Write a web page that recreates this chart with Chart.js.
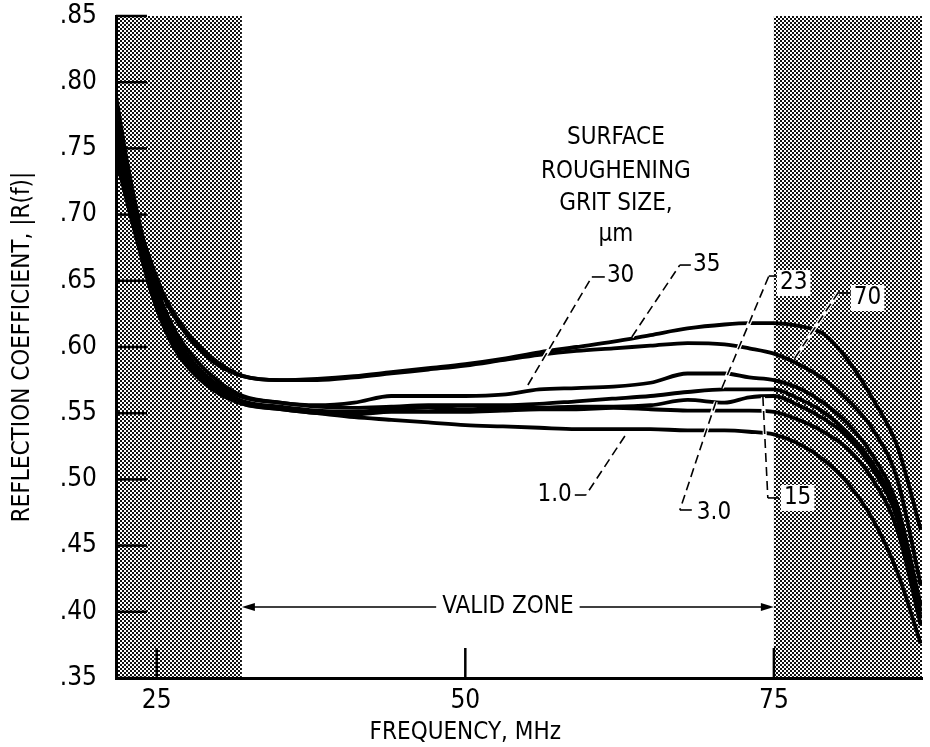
<!DOCTYPE html>
<html>
<head>
<meta charset="utf-8">
<script src="https://cdn.jsdelivr.net/npm/chart.js@4.4.0/dist/chart.umd.min.js"></script>
<style>
  html, body { margin: 0; padding: 0; background: #fff; }
</style>
</head>
<body>
<canvas id="grafico" width="930" height="747"></canvas>
<script>
const FONTE = '"DejaVu Sans Condensed", "Liberation Sans Narrow", "Roboto Condensed", "Liberation Sans", sans-serif';

// eixos
const limitesX = [21.7, 87.0];
const limitesY = [0.35, 0.85];
const ticksX = [25, 50, 75];
const ticksY = [0.35, 0.40, 0.45, 0.50, 0.55, 0.60, 0.65, 0.70, 0.75, 0.80, 0.85];
const zonaValida = [31.9, 75];

// curvas, frequencia em MHz
const frequencias = [21.7, 22.5, 23.5, 24.5, 25.5, 26.5, 28, 30, 32, 35, 38, 41, 44, 47, 50, 53, 56, 59, 62, 65, 68, 71, 73, 75, 77, 79, 81, 83, 85, 86.9];
const grit35 = [0.750, 0.725, 0.693, 0.665, 0.641, 0.624, 0.605, 0.588, 0.578, 0.575, 0.576, 0.578, 0.581, 0.584, 0.587, 0.591, 0.596, 0.600, 0.604, 0.609, 0.614, 0.617, 0.618, 0.618, 0.616, 0.610, 0.590, 0.561, 0.525, 0.462];
const grit70 = [0.740, 0.716, 0.688, 0.662, 0.639, 0.622, 0.603, 0.586, 0.578, 0.575, 0.575, 0.577, 0.580, 0.583, 0.586, 0.590, 0.594, 0.597, 0.599, 0.601, 0.603, 0.602, 0.599, 0.595, 0.587, 0.576, 0.560, 0.538, 0.500, 0.420];
const grit30 = [0.790, 0.745, 0.698, 0.660, 0.632, 0.612, 0.592, 0.574, 0.563, 0.558, 0.556, 0.558, 0.563, 0.563, 0.563, 0.564, 0.568, 0.569, 0.570, 0.573, 0.580, 0.580, 0.577, 0.575, 0.569, 0.558, 0.542, 0.518, 0.480, 0.405];
const grit23 = [0.775, 0.735, 0.692, 0.655, 0.628, 0.608, 0.588, 0.571, 0.562, 0.558, 0.555, 0.554, 0.555, 0.556, 0.556, 0.556, 0.557, 0.559, 0.561, 0.563, 0.566, 0.568, 0.568, 0.568, 0.561, 0.551, 0.535, 0.512, 0.475, 0.400];
const grit15 = [0.765, 0.727, 0.687, 0.651, 0.625, 0.605, 0.585, 0.569, 0.559, 0.555, 0.552, 0.551, 0.553, 0.554, 0.553, 0.554, 0.554, 0.555, 0.555, 0.556, 0.560, 0.558, 0.562, 0.563, 0.556, 0.546, 0.532, 0.508, 0.470, 0.395];
const grit3 = [0.755, 0.720, 0.682, 0.647, 0.621, 0.602, 0.583, 0.567, 0.557, 0.553, 0.550, 0.549, 0.551, 0.551, 0.551, 0.552, 0.553, 0.553, 0.554, 0.553, 0.552, 0.552, 0.552, 0.551, 0.545, 0.536, 0.523, 0.500, 0.462, 0.390];
const grit1 = [0.745, 0.713, 0.677, 0.643, 0.617, 0.598, 0.580, 0.565, 0.557, 0.553, 0.550, 0.547, 0.545, 0.543, 0.541, 0.540, 0.539, 0.538, 0.538, 0.538, 0.537, 0.537, 0.536, 0.534, 0.527, 0.515, 0.497, 0.470, 0.430, 0.376];
const nomesGrit = ['35', '70', '30', '23', '15', '3.0', '1.0'];
const valoresGrit = [grit35, grit70, grit30, grit23, grit15, grit3, grit1];

// rotulos das curvas: linha tracejada em coordenadas do grafico
const chamadas = [
  { texto: '30', pontos: [[55.07, 0.5713], [60.25, 0.6529], [61.3, 0.6529]], pos: [61.47, 0.6536], alinha: 'left' },
  { texto: '35', pontos: [[63.49, 0.6076], [67.38, 0.6619], [68.27, 0.6619]], pos: [68.44, 0.6619], alinha: 'left' },
  { texto: '23', pontos: [[70.79, 0.569], [74.59, 0.6536], [75.32, 0.6536]], pos: [75.49, 0.6483], alinha: 'left', caixa: true },
  { texto: '70', pontos: [[76.7, 0.5917], [80.19, 0.6408], [81.24, 0.6408]], pos: [81.48, 0.637], alinha: 'left', caixa: true },
  { texto: '15', pontos: [[74.11, 0.5622], [74.51, 0.486], [75.41, 0.486]], pos: [75.81, 0.486], alinha: 'left', caixa: true },
  { texto: '3.0', pontos: [[70.3, 0.5585], [67.38, 0.4769], [68.35, 0.4769]], pos: [68.76, 0.4746], alinha: 'left' },
  { texto: '1.0', pontos: [[62.93, 0.5328], [59.77, 0.4882], [58.87, 0.4882]], pos: [58.63, 0.4882], alinha: 'right' }
];
const tituloCurvas = ['SURFACE', 'ROUGHENING', 'GRIT SIZE,', '\u00b5m'];
const posTitulo = [62.2, [0.7579, 0.7322, 0.708, 0.6846]];
const alturaSeta = 0.4036;

const graficoCanvas = document.getElementById('grafico');

function criarPadrao(ctx) {
  const tile = document.createElement('canvas');
  tile.width = 4;
  tile.height = 4;
  const t = tile.getContext('2d');
  t.fillStyle = '#fff';
  t.fillRect(0, 0, 4, 4);
  t.fillStyle = '#111';
  t.fillRect(0, 0, 2, 2);
  t.fillRect(2, 2, 2, 2);
  return ctx.createPattern(tile, 'repeat');
}

function escreve(ctx, texto, x, y, alinha, caixa) {
  ctx.font = '24px ' + FONTE;
  ctx.textAlign = alinha;
  ctx.textBaseline = 'middle';
  if (caixa) {
    const w = ctx.measureText(texto).width;
    let x0 = x - w / 2;
    if (alinha === 'left') x0 = x;
    if (alinha === 'right') x0 = x - w;
    ctx.fillStyle = '#fff';
    ctx.fillRect(x0 - 3, y - 13, w + 6, 26);
  }
  ctx.fillStyle = '#000';
  ctx.fillText(texto, x, y);
}

const fundoPlugin = {
  id: 'fundo',
  beforeDraw(chart) {
    const { ctx, chartArea, scales } = chart;
    const xs = scales.x;
    ctx.save();
    ctx.fillStyle = criarPadrao(ctx);
    const xa = xs.getPixelForValue(zonaValida[0]);
    const xb = xs.getPixelForValue(zonaValida[1]);
    ctx.fillRect(chartArea.left, chartArea.top, xa - chartArea.left, chartArea.bottom - chartArea.top);
    ctx.fillRect(xb, chartArea.top, chartArea.right - xb, chartArea.bottom - chartArea.top);
    ctx.restore();
  },
  afterDatasetsDraw(chart) {
    const { ctx, chartArea, scales } = chart;
    const xs = scales.x;
    const ys = scales.y;
    ctx.save();

    // marcas para dentro
    ctx.strokeStyle = '#000';
    ctx.lineWidth = 2.5;
    ys.ticks.forEach((t) => {
      const y = ys.getPixelForValue(t.value);
      ctx.beginPath();
      ctx.moveTo(chartArea.left, y);
      ctx.lineTo(chartArea.left + 31, y);
      ctx.stroke();
    });
    xs.ticks.forEach((t) => {
      const x = xs.getPixelForValue(t.value);
      ctx.beginPath();
      ctx.moveTo(x, chartArea.bottom);
      ctx.lineTo(x, chartArea.bottom - 30);
      ctx.stroke();
    });

    // seta da zona valida
    const ySeta = ys.getPixelForValue(alturaSeta);
    const xa = xs.getPixelForValue(zonaValida[0]);
    const xb = xs.getPixelForValue(zonaValida[1]);
    const xm = (xa + xb) / 2;
    ctx.font = '24px ' + FONTE;
    const meio = ctx.measureText('VALID ZONE').width / 2 + 6;
    ctx.lineWidth = 1.5;
    ctx.beginPath();
    ctx.moveTo(xa + 10, ySeta);
    ctx.lineTo(xm - meio, ySeta);
    ctx.moveTo(xm + meio, ySeta);
    ctx.lineTo(xb - 10, ySeta);
    ctx.stroke();
    ctx.fillStyle = '#000';
    ctx.beginPath();
    ctx.moveTo(xa, ySeta);
    ctx.lineTo(xa + 13, ySeta - 4);
    ctx.lineTo(xa + 13, ySeta + 4);
    ctx.fill();
    ctx.beginPath();
    ctx.moveTo(xb, ySeta);
    ctx.lineTo(xb - 13, ySeta - 4);
    ctx.lineTo(xb - 13, ySeta + 4);
    ctx.fill();
    escreve(ctx, 'VALID ZONE', xm, ySeta, 'center', false);

    // chamadas tracejadas
    chamadas.forEach((c) => {
      const pts = c.pontos.map((p) => [xs.getPixelForValue(p[0]), ys.getPixelForValue(p[1])]);
      ctx.setLineDash([]);
      ctx.strokeStyle = '#fff';
      ctx.lineWidth = 4;
      ctx.beginPath();
      ctx.moveTo(pts[0][0], pts[0][1]);
      ctx.lineTo(pts[1][0], pts[1][1]);
      ctx.stroke();
      ctx.strokeStyle = '#000';
      ctx.lineWidth = 1.6;
      ctx.setLineDash([9, 5]);
      ctx.beginPath();
      ctx.moveTo(pts[0][0], pts[0][1]);
      ctx.lineTo(pts[1][0], pts[1][1]);
      ctx.stroke();
      ctx.setLineDash([]);
      ctx.beginPath();
      ctx.moveTo(pts[1][0], pts[1][1]);
      ctx.lineTo(pts[2][0], pts[2][1]);
      ctx.stroke();
      escreve(ctx, c.texto, xs.getPixelForValue(c.pos[0]), ys.getPixelForValue(c.pos[1]), c.alinha, c.caixa);
    });

    // titulo das curvas
    tituloCurvas.forEach((linha, i) => {
      escreve(ctx, linha, xs.getPixelForValue(posTitulo[0]), ys.getPixelForValue(posTitulo[1][i]), 'center', false);
    });

    // titulo do eixo x, centrado em 50 MHz como no original
    escreve(ctx, 'FREQUENCY, MHz', xs.getPixelForValue(ticksX[1]), 733, 'center', false);
    ctx.restore();
  }
};

const datasets = valoresGrit.map((valores, i) => ({
  label: nomesGrit[i],
  data: frequencias.map((f, j) => ({ x: f, y: valores[j] })),
  borderColor: '#000',
  borderWidth: 3.8,
  pointRadius: 0,
  fill: false,
  cubicInterpolationMode: 'monotone'
}));

const grafico = new Chart(graficoCanvas, {
  type: 'line',
  data: { datasets: datasets },
  options: {
    responsive: false,
    animation: false,
    layout: { padding: { top: 16, right: 8, left: 0, bottom: 0 } },
    plugins: {
      legend: { display: false },
      tooltip: { enabled: false }
    },
    scales: {
      x: {
        type: 'linear',
        min: limitesX[0],
        max: limitesX[1],
        afterFit: (s) => {
          s.height = 69;
          s.paddingLeft = 0;
          s.paddingRight = 0;
        },
        afterBuildTicks: (s) => { s.ticks = ticksX.map((v) => ({ value: v })); },
        grid: { display: false, drawTicks: false },
        border: { display: true, color: '#000', width: 3 },
        ticks: { padding: 8, color: '#000', autoSkip: false, maxRotation: 0, font: { family: FONTE, size: 26 } }
      },
      y: {
        type: 'linear',
        min: limitesY[0],
        max: limitesY[1],
        afterFit: (s) => {
          s.width = 116;
          s.paddingTop = 0;
          s.paddingBottom = 0;
        },
        afterBuildTicks: (s) => { s.ticks = ticksY.map((v) => ({ value: v })); },
        grid: { display: false, drawTicks: false },
        border: { display: true, color: '#000', width: 3 },
        ticks: {
          padding: 19,
          color: '#000',
          autoSkip: false,
          font: { family: FONTE, size: 26 },
          callback: (v) => v.toFixed(2).replace('0.', '.')
        },
        title: { display: true, text: 'REFLECTION COEFFICIENT, |R(f)|', color: '#000', padding: { top: 8, bottom: 8 }, font: { family: FONTE, size: 24 } }
      }
    }
  },
  plugins: [fundoPlugin]
});
</script>
</body>
</html>
